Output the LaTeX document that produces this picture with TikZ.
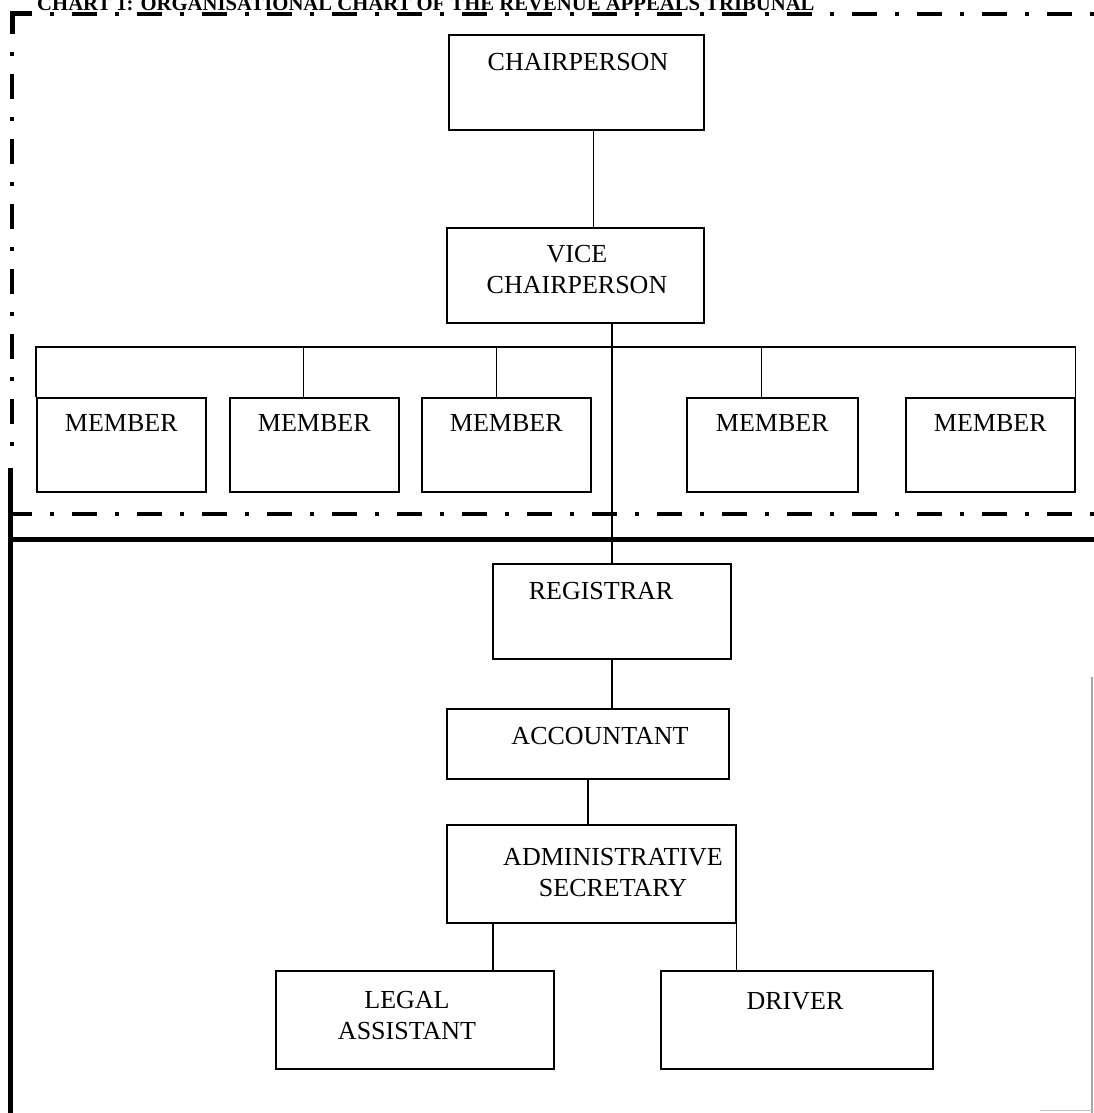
\documentclass[tikz,border=0pt]{standalone}
\usepackage{fontspec}
\setmainfont{Liberation Serif}
\usetikzlibrary{calc}
\begin{document}
\begin{tikzpicture}[x=1pt,y=-1pt,
  orgbox/.style={draw, line width=1.6pt, inner sep=0pt, anchor=north west},
  boxtext/.style={inner sep=0pt, anchor=base, align=center, font=\fontsize{26}{30.5}\selectfont},
  conn/.style={line width=1.6pt},
  dashdot/.style={line width=4.5pt, line cap=butt, dash pattern=on 25pt off 18pt on 4pt off 18pt, dash phase=5pt},
  heavy/.style={line width=5pt, line cap=butt}]
\useasboundingbox (0,0) rectangle (1094,1113);
\clip (0,0) rectangle (1094,1113);
\newcommand\orgnode[5]{\node[orgbox, minimum width={#4-#2}, minimum height={#5-#3}] (#1) at (#2,#3) {};}
% title
\node[inner sep=0pt, anchor=base west, font=\bfseries\fontsize{20.7}{24}\selectfont] (title) at (37,11) {CHART 1: ORGANISATIONAL CHART OF THE REVENUE APPEALS TRIBUNAL};
% borders
\draw[heavy, line cap=butt, line join=miter] (12,34) -- (12,14) -- (32,14);
\draw[dashdot] (12,14) -- (1100,14);
\draw[dashdot] (12,14) -- (12,450);
\draw[dashdot] (12,514) -- (1100,514);
\draw[heavy] (10,539) -- (1100,539);
\draw[heavy] (10,468) -- (10,1113);
\draw[gray!70, line width=1.2pt] (1092,677) -- (1092,1113);
\draw[gray!50, line width=1pt] (1040,1110) -- (1094,1110);
% boxes
\orgnode{chair}{448}{34}{703}{129}
\orgnode{vice}{446}{227}{703}{322}
\orgnode{m1}{36}{397}{205}{491}
\orgnode{m2}{229}{397}{398}{491}
\orgnode{m3}{421}{397}{590}{491}
\orgnode{m4}{686}{397}{857}{491}
\orgnode{m5}{905}{397}{1074}{491}
\orgnode{reg}{492}{563}{730}{658}
\orgnode{acc}{446}{708}{728}{778}
\orgnode{adm}{446}{824}{735}{922}
\orgnode{legal}{275}{970}{553}{1068}
\orgnode{drv}{660}{970}{932}{1068}
% texts (multi-line nodes: base is the last line)
\node[boxtext] (chair-t) at (578,71) {CHAIRPERSON};
\node[boxtext] (vice-t) at (577,293) {VICE\\CHAIRPERSON};
\node[boxtext] (m1-t) at (m1.north |- 0,431) {MEMBER};
\node[boxtext] (m2-t) at (m2.north |- 0,431) {MEMBER};
\node[boxtext] (m3-t) at (m3.north |- 0,431) {MEMBER};
\node[boxtext] (m4-t) at (m4.north |- 0,431) {MEMBER};
\node[boxtext] (m5-t) at (m5.north |- 0,431) {MEMBER};
\node[boxtext] (reg-t) at (601,599) {REGISTRAR};
\node[boxtext] (acc-t) at (600,744) {ACCOUNTANT};
\node[boxtext] (adm-t) at (613,896) {ADMINISTRATIVE\\SECRETARY};
\node[boxtext] (legal-t) at (407,1039) {LEGAL\\ASSISTANT};
\node[boxtext] (drv-t) at (795,1009) {DRIVER};
% connectors
\coordinate (bar) at (0,347);
\draw[conn] ([xshift=17pt]chair.south) -- ([xshift=17pt]chair.south |- vice.north);
\draw[conn] (m1.north west) -- (m1.north west |- bar) -- (m5.north east |- bar) -- (m5.north east);
\draw[conn] ([xshift=-11pt]m2.north) -- ([xshift=-11pt]m2.north |- bar);
\draw[conn] ([xshift=-10pt]m3.north) -- ([xshift=-10pt]m3.north |- bar);
\draw[conn] ([xshift=-11pt]m4.north) -- ([xshift=-11pt]m4.north |- bar);
\draw[conn] (reg.north) -- (reg.north |- vice.south);
\draw[conn] (reg.south) -- (reg.south |- acc.north);
\draw[conn] (acc.south) -- (acc.south |- adm.north);
\draw[conn] ([xshift=47pt]adm.south west) -- ([xshift=47pt]adm.south west |- legal.north);
\draw[conn] (adm.south east) -- (adm.south east |- drv.north);
\end{tikzpicture}
\end{document}
